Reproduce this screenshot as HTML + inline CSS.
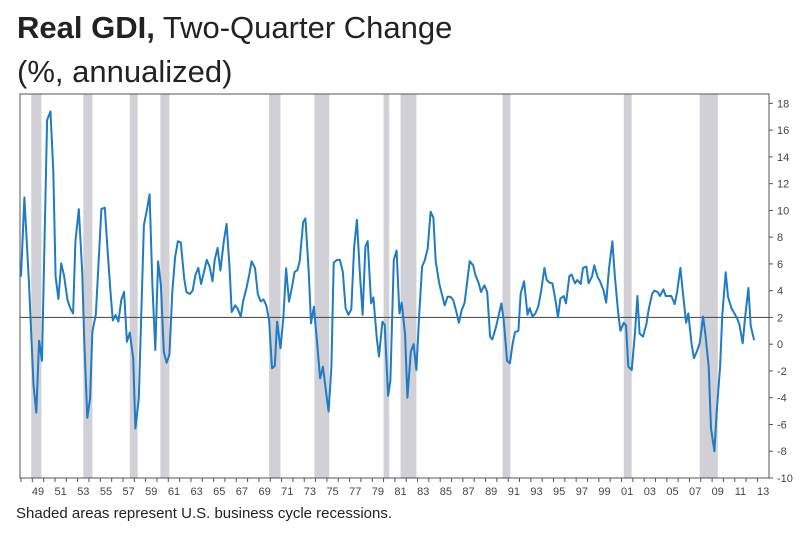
<!DOCTYPE html>
<html><head><meta charset="utf-8"><style>
body{margin:0;background:#fff;width:800px;height:539px;overflow:hidden;font-family:"Liberation Sans",sans-serif}
#title{position:absolute;left:17px;top:6px;font-size:31px;line-height:44px;color:#222}
#title b{font-weight:bold}
#note{position:absolute;left:16px;top:505px;font-size:15px;color:#222}
svg{position:absolute;left:0;top:0}
</style></head><body>
<div id="title"><b>Real GDI,</b> Two-Quarter Change<br>(%, annualized)</div>
<div id="note">Shaded areas represent U.S. business cycle recessions.</div>
<svg id="c" width="800" height="539"></svg>
<script>
const recessionStart=[1948.9,1953.5,1957.6,1960.3,1969.9,1973.9,1980.0,1981.5,1990.5,2001.2,2007.9];
const recessionEnd=[1949.8,1954.3,1958.3,1961.1,1970.9,1975.2,1980.5,1982.9,1991.2,2001.9,2009.5];
const dates=[1948.0,1948.3,1948.7,1949.1,1949.35,1949.6,1949.85,1950.3,1950.6,1950.85,1951.05,1951.3,1951.55,1951.8,1952.1,1952.35,1952.6,1952.8,1953.1,1953.4,1953.6,1953.85,1954.1,1954.3,1954.6,1955.1,1955.4,1955.65,1955.9,1956.1,1956.35,1956.6,1956.85,1957.1,1957.35,1957.6,1957.9,1958.1,1958.4,1958.85,1959.1,1959.35,1959.6,1959.85,1960.1,1960.35,1960.6,1960.85,1961.1,1961.35,1961.6,1961.85,1962.1,1962.4,1962.6,1962.9,1963.15,1963.4,1963.65,1963.9,1964.15,1964.4,1964.65,1964.9,1965.1,1965.35,1965.6,1965.9,1966.15,1966.4,1966.6,1966.9,1967.1,1967.4,1967.6,1967.9,1968.15,1968.35,1968.65,1968.9,1969.15,1969.4,1969.65,1969.9,1970.15,1970.4,1970.6,1970.9,1971.15,1971.4,1971.65,1971.9,1972.15,1972.4,1972.6,1972.9,1973.1,1973.4,1973.6,1973.85,1974.15,1974.4,1974.65,1974.9,1975.15,1975.4,1975.6,1975.9,1976.15,1976.4,1976.65,1976.9,1977.15,1977.4,1977.65,1977.9,1978.15,1978.4,1978.6,1978.9,1979.1,1979.4,1979.6,1979.9,1980.1,1980.4,1980.6,1980.9,1981.15,1981.4,1981.6,1981.9,1982.1,1982.4,1982.65,1982.9,1983.15,1983.4,1983.65,1983.9,1984.15,1984.4,1984.6,1984.9,1985.1,1985.4,1985.65,1985.9,1986.15,1986.4,1986.65,1986.9,1987.15,1987.4,1987.6,1987.9,1988.1,1988.4,1988.6,1988.9,1989.15,1989.4,1989.6,1989.9,1990.1,1990.4,1990.6,1990.9,1991.15,1991.4,1991.6,1991.9,1992.1,1992.4,1992.7,1992.9,1993.15,1993.4,1993.65,1993.9,1994.2,1994.4,1994.65,1994.9,1995.15,1995.4,1995.6,1995.9,1996.1,1996.4,1996.6,1996.9,1997.1,1997.4,1997.6,1997.9,1998.1,1998.4,1998.6,1998.9,1999.1,1999.4,1999.65,1999.9,2000.2,2000.4,2000.7,2000.9,2001.2,2001.4,2001.6,2001.9,2002.2,2002.4,2002.6,2002.9,2003.2,2003.4,2003.7,2003.9,2004.2,2004.4,2004.7,2004.9,2005.2,2005.4,2005.7,2005.9,2006.2,2006.4,2006.7,2006.9,2007.2,2007.4,2007.7,2007.9,2008.2,2008.4,2008.7,2008.9,2009.2,2009.4,2009.7,2009.9,2010.2,2010.4,2010.7,2010.9,2011.2,2011.4,2011.7,2011.9,2012.2,2012.4,2012.7];
const values=[5.05,10.97,4.67,-3.05,-5.12,0.26,-1.23,16.75,17.4,12.9,5.05,3.38,6.04,5.1,3.3,2.68,2.3,7.66,10.1,5.4,-0.05,-5.5,-4.05,0.94,2.2,10.1,10.2,6.9,3.9,1.78,2.18,1.69,3.3,3.92,0.19,0.87,-1.05,-6.3,-4.05,8.9,10.0,11.2,4.4,-0.43,6.2,4.4,-0.56,-1.38,-0.8,3.9,6.5,7.7,7.6,4.9,3.9,3.75,4.0,5.2,5.7,4.5,5.4,6.3,5.8,4.7,6.3,7.2,5.5,7.7,9.0,5.8,2.4,2.9,2.7,2.06,3.2,4.2,5.2,6.2,5.7,3.75,3.2,3.35,2.9,1.8,-1.8,-1.63,1.68,-0.31,1.93,5.67,3.18,4.2,5.4,5.55,6.2,9.1,9.4,5.3,1.56,2.8,-0.06,-2.55,-1.68,-3.4,-5.04,-1.68,6.1,6.3,6.3,5.4,2.7,2.2,2.6,7.2,9.3,5.4,2.2,7.3,7.7,3.05,3.5,0.44,-0.93,1.68,1.44,-3.85,-2.7,6.3,7.0,2.3,3.1,0.7,-4.0,-0.56,0,-1.93,2.2,5.8,6.3,7.16,9.9,9.45,6.2,4.6,3.9,2.9,3.55,3.55,3.3,2.5,1.6,2.55,3.1,4.8,6.2,5.9,5.2,4.55,3.9,4.4,3.9,0.56,0.36,1.2,1.93,3.05,1.8,-1.25,-1.43,0.07,0.9,1.0,3.8,4.7,2.2,2.7,2.06,2.3,2.8,3.9,5.7,4.8,4.6,4.55,3.4,2.0,3.4,3.6,3.05,5.1,5.2,4.55,4.8,4.5,5.7,5.8,4.55,5.05,5.9,5.0,4.7,4.05,3.1,5.65,7.7,5.2,2.4,1.0,1.6,1.4,-1.68,-1.93,0.94,3.6,0.8,0.56,1.5,2.6,3.75,4.0,3.9,3.6,4.1,3.6,3.6,3.6,3.0,3.85,5.7,4.0,1.6,2.3,-0.06,-1.05,-0.43,0.07,2.06,0.8,-1.68,-6.3,-8.0,-5.05,-1.68,2.2,5.37,3.55,2.7,2.4,1.93,1.5,0.07,1.93,4.2,1.4,0.3];
const yTicks=[18,16,14,12,10,8,6,4,2,0,-2,-4,-6,-8,-10];
const xLabels=["49","51","53","55","57","59","61","63","65","67","69","71","73","75","77","79","81","83","85","87","89","91","93","95","97","99","01","03","05","07","09","11","13"];
const refLine=2;
const NS="http://www.w3.org/2000/svg";
const svg=document.getElementById('c');
const L=20,R=769,T=94,B=478;
const X=yr=>21+(yr-1948)*11.33;
const Y=v=>344.2-v*13.38;
function mk(tag,at){const e=document.createElementNS(NS,tag);for(const k in at)e.setAttribute(k,at[k]);svg.appendChild(e);return e;}
recessionStart.forEach((s,i)=>{
 const r=mk('rect',{x:X(s),y:T,width:X(recessionEnd[i])-X(s),height:B-T,fill:'#d0d0d6'});
 
 
});
const fr=mk('rect',{x:L,y:T,width:R-L,height:B-T,fill:'none',stroke:'#555','stroke-width':1});


yTicks.forEach(v=>{
 mk('line',{x1:R,x2:R+4,y1:Y(v),y2:Y(v),stroke:'#555'});
 const t=mk('text',{x:R+8,y:Y(v)+4,'font-size':11,fill:'#444'});
 t.textContent=v;
 
 
});
for(let yr=1948;yr<=2013;yr++){mk('line',{x1:X(yr),x2:X(yr),y1:B,y2:B+4,stroke:'#555'});}
xLabels.forEach((lab,i)=>{
 const yr=1949+2*i;
 const t=mk('text',{x:X(yr+0.5),y:B+17,'font-size':11,fill:'#444','text-anchor':'middle'});
 t.textContent=lab;
 
 
});
const rl=mk('line',{x1:L,x2:R,y1:Y(refLine),y2:Y(refLine),stroke:'#555','stroke-width':1.2});


const p=mk('polyline',{points:dates.map((d,i)=>X(d).toFixed(1)+','+Y(values[i]).toFixed(1)).join(' '),fill:'none',stroke:'#1f7bc4','stroke-width':2,'stroke-linejoin':'round'});


</script>
</body></html>
